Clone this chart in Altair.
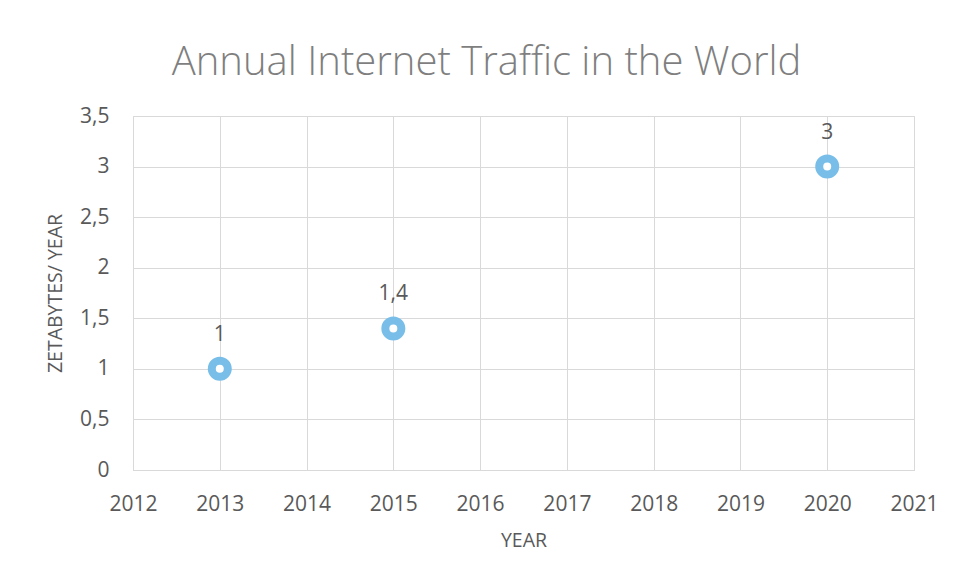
import altair as alt
import pandas as pd

years = [2013, 2015, 2020]
traffic = [1.0, 1.4, 3.0]
labels = ["1", "1,4", "3"]

df = pd.DataFrame({"year": years, "traffic": traffic, "label": labels})

GRAY = "#595959"
FONT = "Open Sans"

base = alt.Chart(df)

x = alt.X("year:Q", title="YEAR",
          scale=alt.Scale(domain=[2012, 2021], nice=False, zero=False),
          axis=alt.Axis(values=list(range(2012, 2022)), format="d",
                        labelFontSize=21, labelColor=GRAY, labelFont=FONT,
                        labelFlush=False, labelOverlap=False,
                        labelPadding=23, titleFontSize=19.5, titleColor=GRAY,
                        titleFont=FONT, titleFontWeight="normal", titlePadding=17,
                        ticks=False, domainColor="#d9d9d9", gridColor="#d9d9d9"))
y = alt.Y("traffic:Q", title="ZETABYTES/ YEAR",
          scale=alt.Scale(domain=[0, 3.5], nice=False),
          axis=alt.Axis(values=[0, 0.5, 1, 1.5, 2, 2.5, 3, 3.5],
                        labelExpr="replace(toString(datum.value), '.', ',')",
                        labelFontSize=21, labelColor=GRAY, labelFont=FONT,
                        labelFlush=False, labelOverlap=False,
                        labelPadding=24, titleFontSize=19.5, titleColor=GRAY,
                        titleFont=FONT, titleFontWeight="normal", titlePadding=14,
                        ticks=False, domain=False, gridColor="#d9d9d9"))

points = base.mark_point(shape="circle", filled=False, size=256, strokeWidth=8,
                         color="#78BEE8", fill="white", fillOpacity=1,
                         opacity=1).encode(x=x, y=y)

texts = base.mark_text(dy=-34, fontSize=21, color=GRAY, font=FONT).encode(
    x="year:Q", y="traffic:Q", text="label:N")

chart = alt.layer(points, texts).properties(
    width=781, height=354,
    title=alt.TitleParams("Annual Internet Traffic in the World", fontSize=40,
                          font=FONT, fontWeight=300, color="#7f7f7f",
                          anchor="middle", dx=-37, offset=22),
    autosize=alt.AutoSizeParams(type="none"),
    padding={"left": 125, "top": 108, "right": 34, "bottom": 90},
).configure_view(stroke=None).configure(background="white")

chart.save("out.html", embed_options={"renderer": "svg", "actions": False})
